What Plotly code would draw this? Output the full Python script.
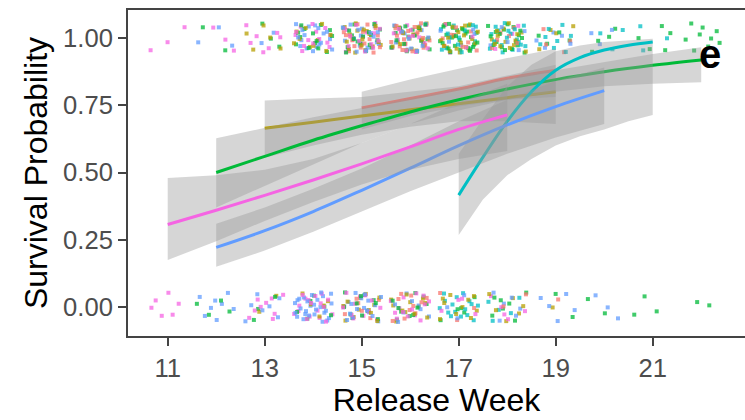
import plotly.graph_objects as go

# ---- fitted survival curves (logistic fits) with 95% confidence bands ----
red_weeks = [15, 16, 17, 18, 19]
red_fit = [0.74, 0.775, 0.81, 0.85, 0.88]
red_lo = [0.66, 0.71, 0.745, 0.77, 0.78]
red_hi = [0.80, 0.845, 0.885, 0.925, 0.96]

olive_weeks = [13, 14, 15, 16, 17, 18, 19]
olive_fit = [0.664, 0.687, 0.71, 0.733, 0.755, 0.778, 0.80]
olive_lo = [0.555, 0.60, 0.64, 0.67, 0.69, 0.69, 0.68]
olive_hi = [0.767, 0.775, 0.78, 0.80, 0.82, 0.86, 0.90]

green_weeks = [12, 13, 14, 15, 16, 17, 18, 19, 20, 21, 22]
green_fit = [0.50, 0.56, 0.62, 0.674, 0.725, 0.77, 0.81, 0.845, 0.874, 0.898, 0.918]
green_lo = [0.37, 0.45, 0.53, 0.61, 0.68, 0.73, 0.77, 0.80, 0.82, 0.83, 0.835]
green_hi = [0.627, 0.665, 0.705, 0.74, 0.775, 0.81, 0.85, 0.88, 0.91, 0.94, 0.965]

cyan_weeks = [17, 17.5, 18, 18.5, 19, 19.5, 20, 20.5, 21]
cyan_fit = [0.416, 0.557, 0.69, 0.80, 0.88, 0.927, 0.955, 0.973, 0.985]
cyan_lo = [0.268, 0.40, 0.49, 0.55, 0.60, 0.635, 0.66, 0.69, 0.714]
cyan_hi = [0.57, 0.70, 0.82, 0.90, 0.95, 0.972, 0.985, 0.992, 0.997]

blue_weeks = [12, 13, 14, 15, 16, 17, 18, 19, 20]
blue_fit = [0.222, 0.284, 0.355, 0.434, 0.516, 0.60, 0.677, 0.745, 0.804]
blue_lo = [0.15, 0.21, 0.28, 0.355, 0.43, 0.50, 0.57, 0.63, 0.68]
blue_hi = [0.31, 0.37, 0.44, 0.515, 0.60, 0.69, 0.77, 0.84, 0.89]

pink_weeks = [11, 12, 13, 14, 15, 16, 17, 18]
pink_fit = [0.307, 0.36, 0.415, 0.472, 0.532, 0.595, 0.66, 0.714]
pink_lo = [0.175, 0.245, 0.32, 0.39, 0.455, 0.51, 0.55, 0.58]
pink_hi = [0.48, 0.49, 0.51, 0.55, 0.61, 0.68, 0.76, 0.83]

# ---- raw outcomes: number of fish per release week (11..22) ----
weeks = list(range(11, 23))
red_alive =   [0, 0, 0, 0, 16, 18, 8, 6, 4, 0, 0, 0]
red_dead =    [0, 0, 0, 0, 6, 10, 3, 2, 1, 0, 0, 0]
olive_alive = [0, 0, 5, 10, 18, 18, 22, 14, 4, 0, 0, 0]
olive_dead =  [0, 0, 2, 5, 12, 12, 10, 6, 1, 0, 0, 0]
green_alive = [0, 2, 3, 14, 18, 18, 26, 18, 4, 4, 5, 9]
green_dead =  [0, 4, 3, 6, 12, 10, 5, 7, 2, 2, 3, 2]
cyan_alive =  [0, 0, 0, 0, 0, 0, 14, 18, 8, 3, 3, 0]
cyan_dead =   [0, 0, 0, 0, 0, 0, 16, 5, 0, 0, 0, 0]
blue_alive =  [0, 3, 2, 18, 18, 16, 5, 5, 5, 3, 0, 0]
blue_dead =   [0, 8, 7, 28, 18, 8, 3, 6, 5, 3, 0, 0]
pink_alive =  [3, 3, 7, 14, 18, 18, 5, 3, 0, 0, 0, 0]
pink_dead =   [6, 0, 9, 18, 12, 14, 4, 5, 0, 0, 0, 0]

colors = ["#F8766D", "#B79F00", "#00BA38", "#00BFC4", "#619CFF", "#F564E3"]

groups = [
    (red_weeks, red_fit, red_lo, red_hi, red_alive, red_dead),
    (olive_weeks, olive_fit, olive_lo, olive_hi, olive_alive, olive_dead),
    (green_weeks, green_fit, green_lo, green_hi, green_alive, green_dead),
    (cyan_weeks, cyan_fit, cyan_lo, cyan_hi, cyan_alive, cyan_dead),
    (blue_weeks, blue_fit, blue_lo, blue_hi, blue_alive, blue_dead),
    (pink_weeks, pink_fit, pink_lo, pink_hi, pink_alive, pink_dead),
]


def halton(i, base):
    """Radical inverse of i in the given base (deterministic jitter)."""
    f, r = 1.0, 0.0
    while i > 0:
        f /= base
        r += f * (i % base)
        i //= base
    return r


# ---- jittered outcome points ----
JIT_W, JIT_H = 0.8, 0.11
pts = []
k = 0
for gi, g in enumerate(groups):
    alive, dead = g[4], g[5]
    for wi, w in enumerate(weeks):
        for outcome, counts in ((1, alive), (0, dead)):
            for _ in range(counts[wi]):
                k += 1
                dx = (halton(k * 7 + 3, 2) - 0.5) * JIT_W
                dy = (halton(k * 5 + 1, 3) - 0.5) * JIT_H
                order = halton(k, 5)
                pts.append((order, w + dx, outcome + dy, colors[gi]))
pts.sort()

fig = go.Figure()
fig.add_trace(go.Scatter(
    x=[p[1] for p in pts], y=[p[2] for p in pts], mode="markers",
    marker=dict(symbol="square", size=4, color=[p[3] for p in pts],
                opacity=0.75, line=dict(width=0)),
    hoverinfo="skip", showlegend=False,
))

# ---- smoothing ribbons and fitted lines, drawn group by group ----
for gi, g in enumerate(groups):
    wk, fit, lo, hi = g[0], g[1], g[2], g[3]
    fig.add_trace(go.Scatter(
        x=list(wk) + list(wk)[::-1], y=list(hi) + list(lo)[::-1],
        mode="lines", fill="toself", fillcolor="rgba(153,153,153,0.4)",
        line=dict(width=0), hoverinfo="skip", showlegend=False,
    ))
    fig.add_trace(go.Scatter(
        x=wk, y=fit, mode="lines",
        line=dict(color=colors[gi], width=3, shape="spline"),
        hoverinfo="skip", showlegend=False,
    ))

fig.add_annotation(x=22.18, y=0.942, text="<b>e</b>", showarrow=False,
                   font=dict(family="Liberation Sans, Arial", size=40, color="black"),
                   xanchor="center", yanchor="middle")

tick_font = dict(family="Liberation Sans, Arial", size=25.6, color="#4D4D4D")
title_font = dict(family="Liberation Sans, Arial", size=32, color="black")

fig.update_layout(
    width=745, height=420,
    margin=dict(l=128, r=0, t=10, b=84),
    paper_bgcolor="white", plot_bgcolor="white",
    showlegend=False,
    xaxis=dict(
        range=[10.181, 22.903], tickvals=[11, 13, 15, 17, 19, 21],
        ticktext=["11", "13", "15", "17", "19", "21"],
        showgrid=False, zeroline=False,
        showline=True, mirror=True, linecolor="#444444", linewidth=2,
        ticks="outside", ticklen=8, tickwidth=2, tickcolor="#444444",
        tickfont=tick_font,
        title=dict(text="Release Week", font=title_font, standoff=6),
    ),
    yaxis=dict(
        range=[-0.1073, 1.1036], tickvals=[0, 0.25, 0.5, 0.75, 1.0],
        ticktext=["0.00", "0.25", "0.50", "0.75", "1.00"],
        showgrid=False, zeroline=False,
        showline=True, linecolor="#444444", linewidth=2,
        ticks="outside", ticklen=8, tickwidth=2, tickcolor="#444444",
        tickfont=tick_font,
        title=dict(text="Survival Probability", font=title_font, standoff=6),
    ),
)

fig.write_html("out.html")
